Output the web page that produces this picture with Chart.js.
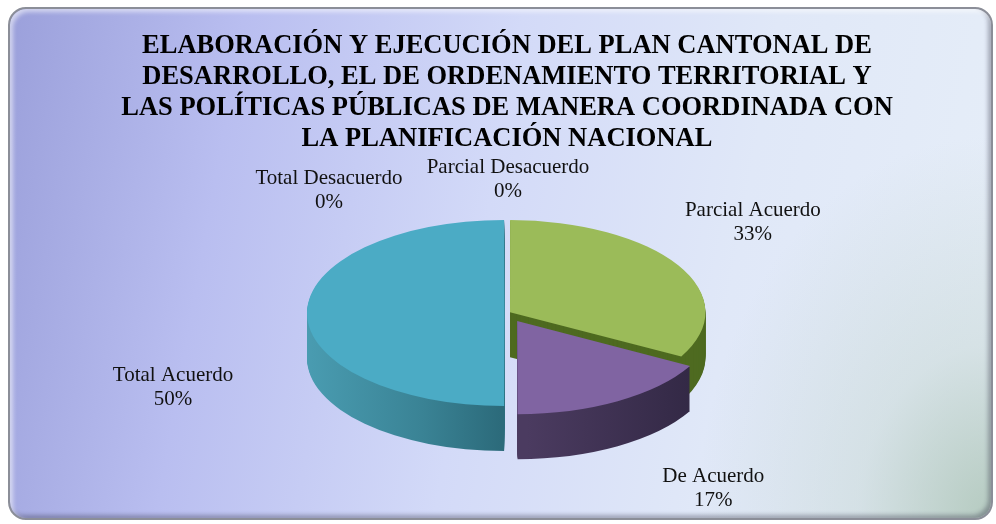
<!DOCTYPE html>
<html>
<head>
<meta charset="utf-8">
<script src="https://cdn.jsdelivr.net/npm/chart.js@4.4.1/dist/chart.umd.min.js"></script>
<style>
    html, body { margin: 0; padding: 0; background: #ffffff; }
    #wrap { position: relative; width: 996px; height: 524px; }
    #frame {
        position: absolute; left: 8px; top: 7px; width: 985px; height: 513px;
        box-sizing: border-box; border: 2px solid #8b8e98; border-radius: 18px;
        background:
            radial-gradient(ellipse 30% 75% at 100% 100%, rgba(172,196,182,0.85) 0%, rgba(185,205,195,0.35) 45%, rgba(200,215,210,0) 100%),
            linear-gradient(100deg, #9ba0db 0%, #b9bef0 22%, #d3daf8 48%, #e0e8f8 72%, #e6eef8 100%);
        box-shadow: inset 3px 3px 4px rgba(255,255,255,0.55), inset -3px -3px 4px rgba(40,40,60,0.35);
    }
    #graphPie { position: absolute; left: 0; top: 0; }
</style>
</head>
<body>
<div id="wrap">
    <div id="frame"></div>
    <canvas id="graphPie" width="996" height="524"></canvas>
</div>
<script>
// datos del grafico
const categories = ["Total Desacuerdo", "Parcial Desacuerdo", "Parcial Acuerdo", "De Acuerdo", "Total Acuerdo"];
const percentages = [0, 0, 33, 17, 50];
const titleLines = [
    "ELABORACIÓN Y EJECUCIÓN DEL PLAN CANTONAL DE",
    "DESARROLLO, EL DE ORDENAMIENTO TERRITORIAL Y",
    "LAS POLÍTICAS PÚBLICAS DE MANERA COORDINADA CON",
    "LA PLANIFICACIÓN NACIONAL"
];

// estilos
const topColors = ["#888888", "#888888", "#9bbb59", "#8064a2", "#4babc5"];
const explode = [0, 0, 14, 80, 10];
const labelNudge = [[-178, -37], [1, -48], [78, -50], [107, 90], [-139, 68]];

function sideColor(ctx, i){
    if(i === 2) return "#4e6a20";
    let g;
    if(i === 3){
        g = ctx.createLinearGradient(517, 0, 715, 0);
        g.addColorStop(0, "#4b3b60");
        g.addColorStop(1, "#2e2540");
        return g;
    }
    g = ctx.createLinearGradient(305, 0, 503, 0);
    g.addColorStop(0, "#4a9db2");
    g.addColorStop(0.6, "#3a8395");
    g.addColorStop(1, "#2c6b7b");
    return g;
}

const pie3d = {
    id: "pie3d",
    beforeDatasetsDraw(chart, args, opts){
        let ctx = chart.ctx;
        let arcs = chart.getDatasetMeta(0).data;
        let cy = arcs[0].y;
        ctx.save();
        ctx.translate(0, cy);
        ctx.scale(1, opts.tilt);
        ctx.translate(0, -cy);
        let fills = arcs.map((a, i) => sideColor(ctx, i));
        for(let k = opts.depth; k >= 1; k--){
            arcs.forEach((arc, i) => {
                let o = arc.options;
                arc.options = Object.assign({}, o, {backgroundColor: fills[i], borderWidth: 0});
                ctx.save();
                ctx.translate(0, k / opts.tilt);
                arc.draw(ctx);
                ctx.restore();
                arc.options = o;
            });
        }
    },
    afterDatasetsDraw(chart){
        chart.ctx.restore();
    }
};

const pieLabels = {
    id: "pieLabels",
    afterDraw(chart, args, opts){
        let ctx = chart.ctx;
        let arcs = chart.getDatasetMeta(0).data;
        ctx.save();
        ctx.font = "21px 'Liberation Serif', 'Times New Roman', serif";
        ctx.fillStyle = "#111111";
        ctx.textAlign = "center";
        ctx.textBaseline = "alphabetic";
        arcs.forEach((arc, i) => {
            let mid = (arc.startAngle + arc.endAngle) / 2;
            let r = arc.outerRadius;
            let x = arc.x + r * Math.cos(mid) + labelNudge[i][0];
            let y = arc.y + opts.tilt * r * Math.sin(mid) + labelNudge[i][1];
            ctx.fillText(categories[i], x, y);
            ctx.fillText(percentages[i] + "%", x, y + 23.5);
        });
        ctx.restore();
    }
};

let myCanvas = document.getElementById("graphPie").getContext("2d");
let graph = new Chart(myCanvas, {
    type: "pie",
    data: {
        labels: categories,
        datasets: [{
            data: percentages,
            backgroundColor: topColors,
            borderWidth: 0,
            offset: explode,
            hoverOffset: 0,
            clip: false
        }]
    },
    options: {
        responsive: false,
        animation: false,
        radius: 195,
        layout: { padding: { left: 18, right: 0, top: 0, bottom: 63 } },
        plugins: {
            legend: { display: false },
            tooltip: { enabled: false },
            title: {
                display: true,
                text: titleLines,
                color: "#000000",
                font: { family: "'Liberation Serif', 'Times New Roman', serif", size: 26.5, weight: "bold", lineHeight: 1.17 },
                padding: { top: 31, bottom: 10 }
            },
            pie3d: { tilt: 0.471, depth: 45 },
            pieLabels: { tilt: 0.471 }
        }
    },
    plugins: [pie3d, pieLabels]
});
</script>
</body>
</html>
